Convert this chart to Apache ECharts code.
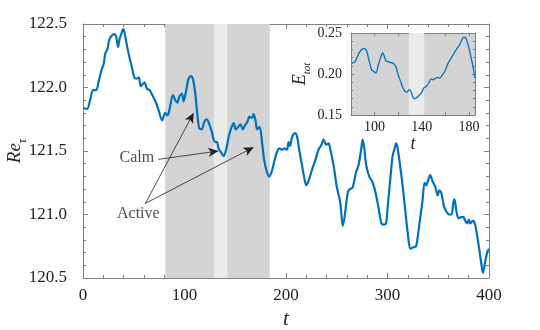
<!DOCTYPE html>
<html>
<head>
<meta charset="utf-8">
<script src="https://cdn.jsdelivr.net/npm/echarts@6/dist/echarts.min.js"></script>
<style>
  html, body { margin: 0; padding: 0; background: #fff; }
  #chart { width: 540px; height: 330px; }
</style>
</head>
<body>
<div id="chart"></div>
<script>
// main trace: Re_tau(t)
const t = [0, 4, 7, 10, 13, 15.5, 18, 20.5, 22, 24, 26, 28.5, 31, 33, 34.5, 36, 38.5, 39.5, 41, 43.5,
  46, 48.5, 50.5, 53, 55, 57, 60.5, 63, 65.5, 69, 72, 74.5, 78, 81, 83, 84.5, 86, 88.5, 91, 93,
  95, 97.5, 99, 102, 104, 106.5, 108.5, 110.5, 112.5, 114.5, 117, 119.5, 122, 124.5, 127, 128.7, 130.5, 132, 133.5, 136,
  138.5, 141, 143.5, 146, 148.5, 150.5, 153, 155, 157.5, 160, 162, 164, 166.5, 168, 170, 171.5, 174, 176.5, 178.5, 181,
  183.5, 186, 188.5, 191, 193.5, 196, 198.5, 201, 202.5, 204, 206, 209, 211, 213, 215.5, 217.5, 220, 222.5, 225.5, 229,
  232, 235, 237, 239.5, 242, 243.5, 247, 250, 253.5, 256, 261, 263, 265.5, 269, 271.5, 274, 275.5, 277, 279, 282,
  285, 288, 291, 294, 296, 298.5, 300.5, 303, 305, 307, 308.5, 310, 312.5, 315, 317.5, 320, 322.5, 325, 328, 329,
  332, 334.5, 336.5, 338, 340.5, 342, 344.5, 347, 349.5, 351, 353, 355.5, 357.5, 361, 363, 365, 366, 368, 370, 372.5,
  375, 376, 378.5, 380, 381.5, 384, 386, 388, 390.5, 392.5, 394, 396.5, 398.5, 400];
const re = [121.84, 121.83, 121.90, 121.98, 121.98, 122.05, 122.13, 122.19, 122.27, 122.30, 122.38, 122.41, 122.42, 122.39, 122.32, 122.38, 122.44, 122.46, 122.43, 122.32,
  122.23, 122.15, 122.08, 122.07, 122.08, 122.01, 122.04, 121.99, 121.98, 121.93, 121.88, 121.82, 121.74, 121.80, 121.78, 121.80, 121.86, 121.94, 121.90, 121.88,
  121.93, 121.95, 121.89, 121.99, 122.07, 122.09, 122.06, 121.96, 121.80, 121.68, 121.67, 121.73, 121.75, 121.71, 121.65, 121.59, 121.57, 121.57, 121.52, 121.49,
  121.46, 121.51, 121.61, 121.68, 121.72, 121.67, 121.69, 121.71, 121.67, 121.71, 121.73, 121.77, 121.76, 121.79, 121.74, 121.67, 121.69, 121.56, 121.43, 121.34,
  121.30, 121.34, 121.42, 121.49, 121.52, 121.51, 121.52, 121.51, 121.57, 121.54, 121.61, 121.64, 121.61, 121.51, 121.40, 121.31, 121.23, 121.27, 121.35, 121.43,
  121.51, 121.55, 121.59, 121.55, 121.56, 121.52, 121.38, 121.22, 121.09, 120.91, 121.18, 121.20, 121.21, 121.33, 121.39, 121.51, 121.59, 121.53, 121.39, 121.30,
  121.26, 121.18, 121.06, 120.93, 120.92, 120.93, 121.09, 121.30, 121.46, 121.52, 121.56, 121.52, 121.38, 121.22, 121.03, 120.85, 120.73, 120.74, 120.75, 120.78,
  120.96, 121.11, 121.25, 121.23, 121.28, 121.31, 121.26, 121.22, 121.15, 121.19, 121.17, 121.07, 121.03, 121.00, 121.00, 121.10, 121.12, 121.02, 120.97, 120.98,
  120.98, 120.96, 120.93, 120.96, 120.93, 120.95, 120.93, 120.85, 120.72, 120.61, 120.54, 120.64, 120.71, 120.73];

// inset trace: E_tot(t)
const tInset = [80.6, 83.4, 86.2, 89.0, 91.8, 93.3, 95.5, 97.5, 99.4, 101.1, 103.1, 105.1, 106.8, 108.1, 109.6, 111.5, 113.5, 115.7, 118.0, 119.9,
  122.0, 123.7, 125.6, 127.6, 129.2, 130.7, 132.1, 133.2, 135.5, 137.7, 139.7, 141.7, 143.9, 145.9, 147.6, 149.5, 151.8, 153.7, 155.2, 157.4,
  159.4, 162.2, 165.9, 169.3, 172.1, 174.3, 175.7, 177.1, 179.1, 181.1, 183.3, 185];
const eTot = [0.213, 0.215, 0.224, 0.230, 0.231, 0.228, 0.215, 0.205, 0.203, 0.201, 0.211, 0.220, 0.226, 0.222, 0.216, 0.215, 0.214, 0.213, 0.209, 0.199,
  0.191, 0.184, 0.179, 0.178, 0.181, 0.179, 0.173, 0.170, 0.171, 0.174, 0.177, 0.183, 0.185, 0.189, 0.194, 0.193, 0.195, 0.196, 0.195, 0.199,
  0.203, 0.213, 0.222, 0.230, 0.236, 0.243, 0.245, 0.244, 0.236, 0.224, 0.209, 0.195];

// shaded intervals
const activeSpans = [[81, 129], [142, 184]];
const calmSpan = [129, 142];

// annotations: text anchor, arrow start, arrow targets
const calmText = [53, 121.447];
const calmFrom = [74.2, 121.434];
const calmTo = [[133.3, 121.50]];
const activeText = [54.5, 121.003];
const activeFrom = [61.4, 121.087];
const activeTo = [[109, 121.80], [168.1, 121.53]];

const blue = '#0072BD';
const dark = '#d4d4d4';
const light = '#ebebeb';
const frame = '#7f7f7f';
const ink = '#222';
const serif = 'Liberation Serif';

const frameAxis = (extra) => Object.assign({
  type: 'value',
  axisLine: { show: true, onZero: false, lineStyle: { color: frame, width: 1 } },
  axisTick: { show: true, inside: true, length: 5, lineStyle: { color: frame } },
  minorTick: { show: true, splitNumber: 5, length: 3, lineStyle: { color: frame } },
  splitLine: { show: false },
  axisLabel: { show: false },
}, extra);

const myChart = echarts.init(document.getElementById('chart'), null, { renderer: 'canvas' });

const markAreas = activeSpans.map(s => [{ xAxis: s[0], itemStyle: { color: dark } }, { xAxis: s[1] }]);
markAreas.push([{ xAxis: calmSpan[0], itemStyle: { color: light } }, { xAxis: calmSpan[1] }]);

const arrowLine = (from, to) => [
  { coord: from, symbol: 'none' },
  { coord: to, symbol: 'arrow', symbolSize: [7, 10] },
];
const arrows = calmTo.map(p => arrowLine(calmFrom, p))
  .concat(activeTo.map(p => arrowLine(activeFrom, p)));

myChart.setOption({
  animation: false,
  textStyle: { fontFamily: serif },
  grid: [
    { left: 83, top: 24, width: 406, height: 254, outerBoundsMode: 'none', containLabel: false },
    { left: 351, top: 33, width: 124, height: 82, outerBoundsMode: 'none', containLabel: false,
      show: true, backgroundColor: dark, borderWidth: 0 },
  ],
  xAxis: [
    frameAxis({
      gridIndex: 0, position: 'bottom', min: 0, max: 400, interval: 100,
      axisLabel: { show: true, fontSize: 17, color: ink, fontFamily: serif, margin: 9 },
      name: 't', nameLocation: 'middle', nameGap: 25,
      nameTextStyle: { fontSize: 21, fontStyle: 'italic', color: ink, fontFamily: serif },
    }),
    frameAxis({ gridIndex: 0, position: 'top', min: 0, max: 400, interval: 100 }),
    frameAxis({
      gridIndex: 1, position: 'bottom', min: 80, max: 185, interval: 20,
      minorTick: { show: false },
      axisTick: { show: true, inside: true, length: 3, lineStyle: { color: frame } },
      axisLabel: {
        show: true, fontSize: 14, color: ink, fontFamily: serif, margin: 5,
        formatter: v => (v % 40 === 20 ? String(v) : ''),
      },
      name: 't', nameLocation: 'middle', nameGap: 20,
      nameTextStyle: { fontSize: 18, fontStyle: 'italic', color: ink, fontFamily: serif },
    }),
    frameAxis({
      gridIndex: 1, position: 'top', min: 80, max: 185, interval: 20,
      minorTick: { show: false },
      axisTick: { show: true, inside: true, length: 3, lineStyle: { color: frame } },
    }),
  ],
  yAxis: [
    frameAxis({
      gridIndex: 0, position: 'left', min: 120.5, max: 122.5, interval: 0.5,
      axisLabel: { show: true, fontSize: 17, color: ink, fontFamily: serif, margin: 16, formatter: v => v.toFixed(1) },
      name: '{a|Re}{b|τ}', nameLocation: 'middle', nameGap: 54, nameMoveOverlap: false,
      nameTextStyle: {
        rich: {
          a: { fontSize: 19, fontStyle: 'italic', color: ink, fontFamily: serif, lineHeight: 24, verticalAlign: 'top' },
          b: { fontSize: 12, fontStyle: 'italic', color: ink, fontFamily: serif, verticalAlign: 'bottom' },
        },
      },
    }),
    frameAxis({ gridIndex: 0, position: 'right', min: 120.5, max: 122.5, interval: 0.5 }),
    frameAxis({
      gridIndex: 1, position: 'left', min: 0.15, max: 0.25, interval: 0.05,
      axisTick: { show: true, inside: true, length: 3, lineStyle: { color: frame } },
      minorTick: { show: true, splitNumber: 5, length: 2, lineStyle: { color: frame } },
      axisLabel: { show: true, fontSize: 14, color: ink, fontFamily: serif, margin: 9, formatter: v => v.toFixed(2) },
      name: '{a|E}{b|tot}', nameLocation: 'middle', nameGap: 38,
      nameTextStyle: {
        rich: {
          a: { fontSize: 18, fontStyle: 'italic', color: ink, fontFamily: serif, lineHeight: 22, verticalAlign: 'top' },
          b: { fontSize: 11, fontStyle: 'italic', color: ink, fontFamily: serif, verticalAlign: 'bottom' },
        },
      },
    }),
    frameAxis({
      gridIndex: 1, position: 'right', min: 0.15, max: 0.25, interval: 0.05,
      axisTick: { show: true, inside: true, length: 3, lineStyle: { color: frame } },
      minorTick: { show: true, splitNumber: 5, length: 2, lineStyle: { color: frame } },
    }),
  ],
  series: [
    {
      name: 'Re_tau',
      type: 'line',
      xAxisIndex: 0,
      yAxisIndex: 0,
      data: t.map((v, i) => [v, re[i]]),
      showSymbol: false,
      smooth: 0.3,
      lineStyle: { color: blue, width: 2.2 },
      z: 3,
      markArea: { silent: true, data: markAreas },
      markLine: {
        silent: true,
        animation: false,
        label: { show: false },
        lineStyle: { color: '#222', width: 0.8, type: 'solid' },
        itemStyle: { color: '#222' },
        emphasis: { disabled: true },
        data: arrows,
      },
    },
    {
      name: 'annotations',
      type: 'scatter',
      xAxisIndex: 0,
      yAxisIndex: 0,
      symbolSize: 0,
      silent: true,
      z: 4,
      data: [
        { name: 'Calm', value: calmText },
        { name: 'Active', value: activeText },
      ],
      label: {
        show: true, position: 'inside', formatter: '{b}',
        fontSize: 16, color: ink, fontFamily: serif,
      },
    },
    {
      name: 'E_tot',
      type: 'line',
      xAxisIndex: 2,
      yAxisIndex: 2,
      data: tInset.map((v, i) => [v, eTot[i]]),
      showSymbol: false,
      smooth: 0.3,
      lineStyle: { color: blue, width: 1.3 },
      z: 3,
      markArea: {
        silent: true,
        data: [[{ xAxis: calmSpan[0], itemStyle: { color: light } }, { xAxis: calmSpan[1] }]],
      },
    },
  ],
});
</script>
</body>
</html>
